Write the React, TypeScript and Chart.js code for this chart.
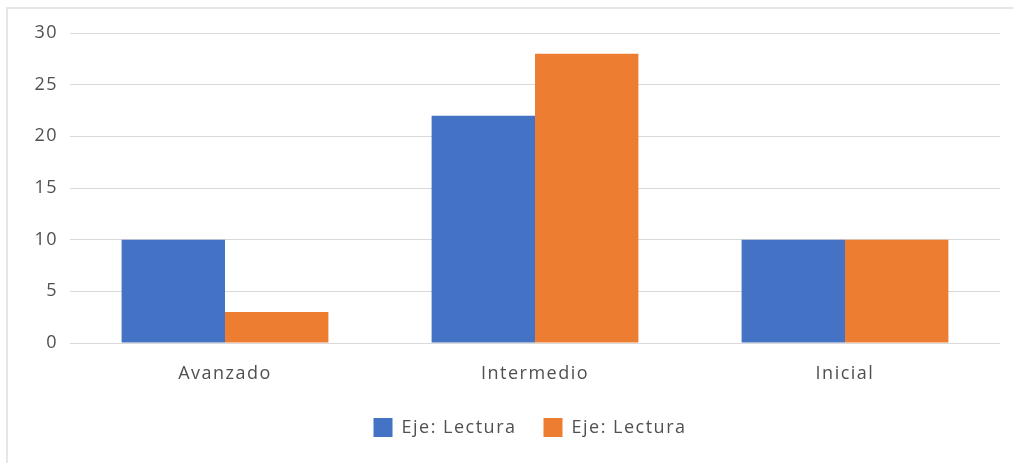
import React, { useEffect, useRef } from "react";
import { Chart, registerables } from "chart.js";

Chart.register(...registerables);

const categories = ["Avanzado", "Intermedio", "Inicial"];
const seriesA = [10, 22, 10];
const seriesB = [3, 28, 10];
const seriesLabels = ["Eje: Lectura", "Eje: Lectura"];
const yTicks = [0, 5, 10, 15, 20, 25, 30];

const spacingPlugin = {
  id: "spacing",
  beforeUpdate(chart: any) {
    (chart.ctx as any).letterSpacing = "1.5px";
  },
  afterLayout(chart: any) {
    if (chart.legend) chart.legend.left += 60;
  },
  beforeDraw(chart: any) {
    (chart.ctx as any).letterSpacing = "1.5px";
  },
};

export default function App() {
  const ref = useRef<HTMLCanvasElement | null>(null);
  useEffect(() => {
    document.body.style.margin = "0";
    const font = { family: "'Open Sans', sans-serif", size: 18 };
    const chart = new Chart(ref.current!, {
      type: "bar",
      data: {
        labels: categories,
        datasets: [
          { label: seriesLabels[0], data: seriesA, backgroundColor: "#4472C4", categoryPercentage: 0.667, barPercentage: 1 },
          { label: seriesLabels[1], data: seriesB, backgroundColor: "#ED7D31", categoryPercentage: 0.667, barPercentage: 1 },
        ],
      },
      options: {
        animation: false,
        responsive: false,
        layout: { padding: { left: 0, right: 13, top: 33, bottom: 16 } },
        plugins: {
          legend: {
            position: "bottom",
            labels: { boxWidth: 19, boxHeight: 19, padding: 27, color: "#505050", font },
          },
          tooltip: { enabled: false },
        },
        scales: {
          x: {
            grid: { display: false },
            border: { display: false },
            ticks: { color: "#505050", font, padding: 12 },
            afterFit: (s: any) => { s.height = 48; },
          },
          y: {
            min: 0,
            max: 30,
            afterBuildTicks: (s: any) => { s.ticks = yTicks.map((v) => ({ value: v })); },
            grid: { color: "#d9d9d9", drawTicks: false, lineWidth: 1 },
            border: { display: false },
            ticks: { color: "#505050", font, padding: 12 },
            afterFit: (s: any) => { s.width = 70; },
          },
        },
      },
      plugins: [spacingPlugin],
    } as any);
    return () => chart.destroy();
  }, []);
  return (
    <div style={{ position: "relative", width: 1013, height: 463, background: "#fff" }}>
      <div style={{ position: "absolute", left: 6, top: 7, width: 1007, height: 456, borderTop: "2px solid #e6e6e6", borderLeft: "2px solid #e6e6e6", boxSizing: "border-box" }} />
      <canvas ref={ref} width={1013} height={463} style={{ position: "absolute", left: 0, top: 0 }} />
    </div>
  );
}
